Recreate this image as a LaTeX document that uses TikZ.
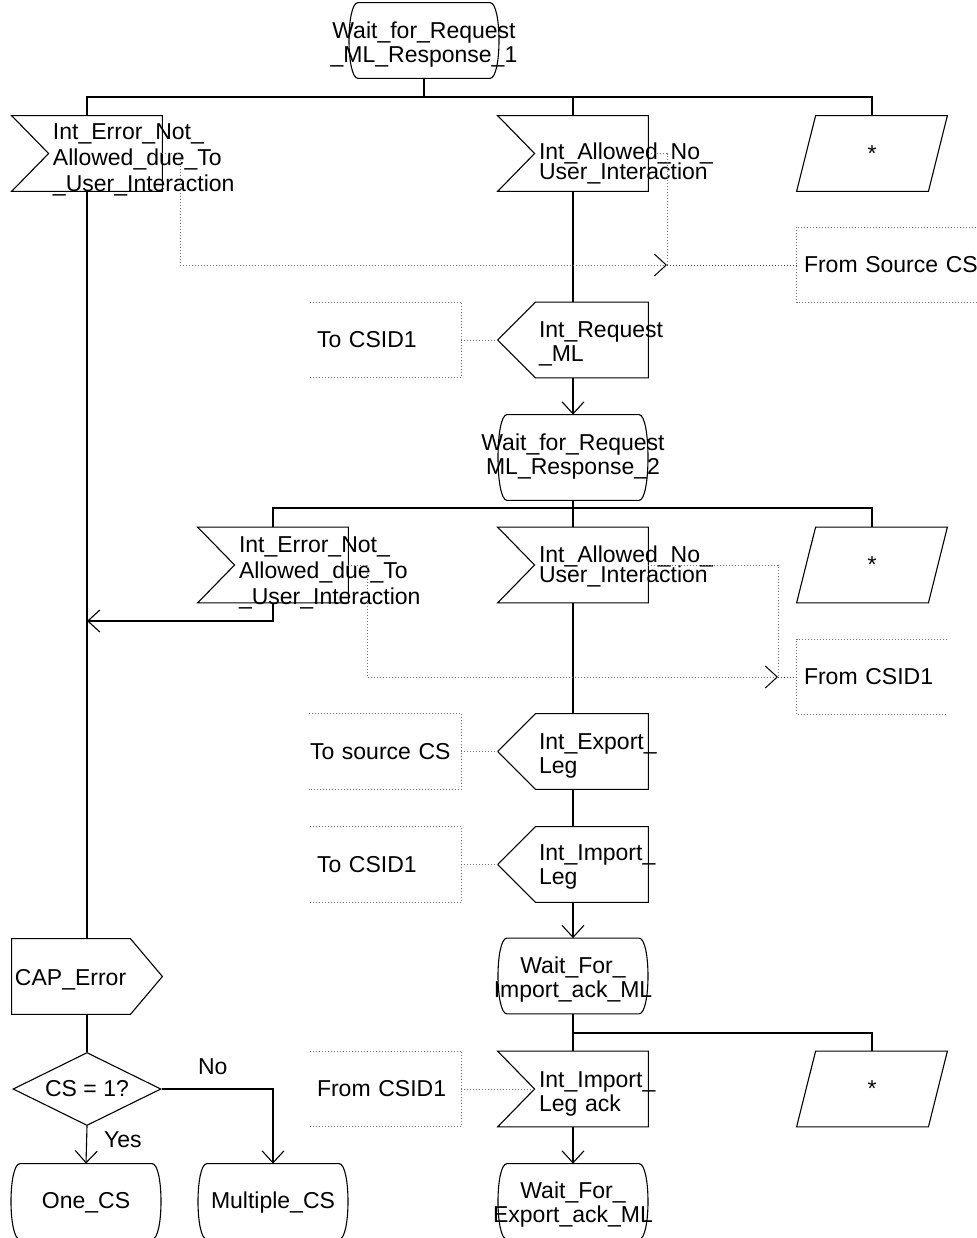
\documentclass[tikz,border=0pt]{standalone}
\usepackage{fontspec}
\setmainfont{Liberation Sans}
\usepackage{tikz}
\usetikzlibrary{calc,arrows.meta,shapes.geometric}

\newcommand{\sdlfont}[1][12]{\fontsize{11.5}{#1}\selectfont\lineskiplimit=-20pt\hyphenpenalty=10000\exhyphenpenalty=10000}

\tikzset{
  sdlbase/.style={inner sep=0pt, font=\sdlfont},
  sdlbox/.style={sdlbase, minimum width=75pt, minimum height=37.5pt},
  sdlsig/.style={sdlbox, text width=34pt, align=left},
  sdlstate/.style={sdlbox, text width=110pt, align=center},
  sdlnote/.style={sdlbox, align=left},
  tb/.style 2 args={text height=#1pt, text depth=#2pt},
  wire/.style={line width=0.55pt},
  barb/.style={-{Straight Barb[length=6pt,width=11pt,color=black]}},
  flow/.style={wire, barb},
  note/.style={black!55, line width=0.5pt, densely dotted},
  noteflow/.style={note, barb},
}

\begin{document}
\begin{tikzpicture}[x=0.5pt, y=-0.5pt]
  \useasboundingbox (0,0) rectangle (976,1238);

  % States
  \node[sdlstate, tb={17.5}{20}] (st1) at (424,40.5) {Wait\_for\_Request\\\_ML\_Response\_1};
  \node[sdlstate, minimum height=42.5pt, tb={14.5}{22}] (st2) at (573,457.5) {Wait\_for\_Request\\ML\_Response\_2};
  \node[sdlstate, tb={17}{20}] (st3) at (573,976) {Wait\_For\_\\Import\_ack\_ML};
  \node[sdlstate, tb={17}{20}] (st4) at (573,1201.5) {Wait\_For\_\\Export\_ack\_ML};
  \node[sdlstate, tb={20}{13.5}] (one) at (86,1201.5) {One\_CS};
  \node[sdlstate, tb={20}{13.5}] (mult) at (273,1201.5) {Multiple\_CS};

  % Inputs and outputs
  \node[sdlsig, font={\sdlfont[13]}, tb={9.75}{24.25}] (err1) at (87,153.5) {Int\_Error\_Not\_\\Allowed\_due\_To\\\_User\_Interaction};
  \node[sdlsig, font={\sdlfont[10]}, tb={20}{14.2}] (allow1) at (573,153.5) {Int\_Allowed\_No\_\\User\_Interaction};
  \node[sdlsig, tb={15.5}{18.5}] (req) at (573,340) {Int\_Request\\\_ML};
  \node[sdlsig, font={\sdlfont[13]}, tb={10.5}{23.5}] (err2) at (273,565) {Int\_Error\_Not\_\\Allowed\_due\_To\\\_User\_Interaction};
  \node[sdlsig, font={\sdlfont[10]}, tb={15.5}{18.5}] (allow2) at (573,565) {Int\_Allowed\_No\_\\User\_Interaction};
  \node[sdlsig, tb={16}{18}] (exp) at (573,751.5) {Int\_Export\_\\Leg};
  \node[sdlsig, tb={15}{19}] (imp) at (573,864.5) {Int\_Import\_\\Leg};
  \node[sdlsig, tb={16}{18}] (impack) at (573,1089) {Int\_Import\_\\Leg~ack};
  \node[sdlbox, text width=72pt, align=left, tb={20}{11.5}] (caperr) at (87,976.5) {CAP\_Error};

  % Asterisk inputs
  \node[sdlbox] (save1) at (872,153.5) {*};
  \node[sdlbox] (save2) at (872,565) {*};
  \node[sdlbox] (save3) at (872,1089) {*};

  % Decision
  \node[sdlbase, diamond, draw, wire, aspect=2, minimum width=74pt, minimum height=36.5pt] (dec) at (87,1089) {CS = 1?};

  % Dotted text boxes
  \node[sdlnote, minimum width=89.5pt, text width=82.5pt] (fsrc) at (886.5,265) {From~Source~CS};
  \node[sdlnote, minimum width=75.5pt, text width=68.5pt] (tocs1) at (385.5,340) {To~CSID1};
  \node[sdlnote, text width=68pt] (fcs1) at (872,677) {From~CSID1};
  \node[sdlnote, minimum width=76pt, text width=75pt] (tosrc) at (385,751.5) {To~source~CS};
  \node[sdlnote, minimum width=75.5pt, text width=68.5pt] (tocs2) at (385.5,864.5) {To~CSID1};
  \node[sdlnote, minimum width=75.5pt, text width=68.5pt] (fcs2) at (385.5,1089) {From~CSID1};

  % Outlines
  \foreach \n in {st1,st2,st3,st4,one,mult}
    \draw[wire] ($(\n.north)+(-66,0)$) -- ($(\n.north)+(66,0)$) .. controls ($(\n.north)+(78,0)$) and ($(\n.south)+(78,0)$) .. ($(\n.south)+(66,0)$) -- ($(\n.south)+(-66,0)$) .. controls ($(\n.south)+(-78,0)$) and ($(\n.north)+(-78,0)$) .. cycle;
  \foreach \n in {err1,allow1,err2,allow2,impack}
    \draw[wire] (\n.north west) -- (\n.north east) -- (\n.south east) -- (\n.south west) -- ($(\n.west)+(37,0)$) -- cycle;
  \foreach \n in {req,exp,imp}
    \draw[wire] (\n.west) -- ($(\n.north west)+(38,0)$) -- (\n.north east) -- (\n.south east) -- ($(\n.south west)+(38,0)$) -- cycle;
  \foreach \n in {save1,save2,save3}
    \draw[wire] ($(\n.north west)+(19,0)$) -- (\n.north east) -- ($(\n.south east)+(-19,0)$) -- (\n.south west) -- cycle;
  \draw[wire] (caperr.north west) -- ($(caperr.north east)+(-32,0)$) -- (caperr.east) -- ($(caperr.south east)+(-32,0)$) -- (caperr.south west) -- cycle;
  \foreach \n in {tocs1,tosrc,tocs2,fcs2}
    \draw[note] (\n.north west) -- (\n.north east) -- (\n.south east) -- (\n.south west);
  \foreach \n in {fsrc,fcs1}
    \draw[note] (\n.north east) -- (\n.north west) -- (\n.south west) -- (\n.south east);

  % Branch points
  \coordinate (b1) at (424,97);
  \coordinate (b2) at (573,508);
  \coordinate (b3) at (573,1033);
  \coordinate (j1) at (667,265);
  \coordinate (j2) at (778,677);
  \coordinate (m1) at (87,621);

  % Flow lines
  \draw[wire] (st1.south) -- (b1);
  \draw[wire] (err1.north) |- (b1) -| (save1.north);
  \draw[wire] (allow1.north) -- (allow1.north |- b1);
  \draw[wire] (allow1.south) -- (req.north);
  \draw[flow] (req.south) -- (st2.north);
  \draw[wire] (st2.south) -- (b2);
  \draw[wire] (err2.north) |- (b2) -| (save2.north);
  \draw[wire] (b2) -- (allow2.north);
  \draw[wire] (allow2.south) -- (exp.north);
  \draw[wire] (exp.south) -- (imp.north);
  \draw[flow] (imp.south) -- (st3.north);
  \draw[wire] (st3.south) -- (b3) -| (save3.north);
  \draw[wire] (b3) -- (impack.north);
  \draw[flow] (impack.south) -- (st4.north);
  \draw[wire] (err1.south) -- (caperr.north);
  \draw[flow] (err2.south) |- (m1);
  \draw[wire] (caperr.south) -- (dec.north);
  \draw[flow] (dec.south) -- node[sdlbase, pos=0.37, anchor=west, xshift=8.5pt] {Yes} (one.north);
  \draw[flow] (dec.east) -| node[sdlbase, pos=0.23, above=7pt] {No} (mult.north);

  % Dotted links
  \draw[noteflow] (err1.east) -- ++(18,0) |- (j1);
  \draw[note] (allow1.east) -| (j1);
  \draw[note, black!75] (fsrc.west) -- (j1);
  \draw[note] (req.west) -- (tocs1.east);
  \draw[noteflow] (err2.east) -- ++(19,0) |- (j2);
  \draw[note] (allow2.east) -| (j2);
  \draw[note, black!75] (fcs1.west) -- (j2);
  \draw[note] (exp.west) -- (tosrc.east);
  \draw[note] (imp.west) -- (tocs2.east);
  \draw[note] (fcs2.east) -- ($(impack.west)+(37,0)$);
\end{tikzpicture}
\end{document}
